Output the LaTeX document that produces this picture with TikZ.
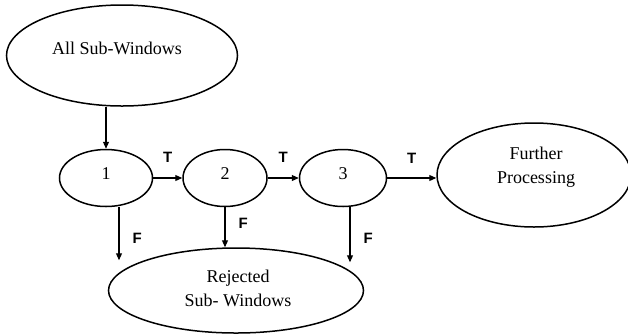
\documentclass[tikz,border=0pt]{standalone}
\usepackage{fontspec}
\setmainfont{Liberation Serif}
\newfontfamily\flagfont{Liberation Sans}
\usetikzlibrary{shapes.geometric,positioning,arrows.meta}

\begin{document}
\begin{tikzpicture}[x=1pt, y=1pt, >={Triangle[length=7pt,width=6pt]},
    stage/.style={ellipse, draw, line width=1.5pt, inner sep=0pt, minimum height=57pt},
    flag/.style={font=\flagfont\bfseries\fontsize{15}{18}\selectfont, inner sep=0pt},
    every label/.style={font=\fontsize{18}{24}\selectfont, align=center, inner sep=0pt}]
    \useasboundingbox (0,0) rectangle (628,-333);

    % Classifier stages
    \node[stage, minimum width=93pt, label={[yshift=4pt]center:1}] (n1) at (106,-178) {};
    \node[stage, minimum width=84pt, right=29pt of n1, label={[yshift=4pt]center:2}] (n2) {};
    \node[stage, minimum width=87pt, right=31pt of n2, label={[yshift=4pt]center:3}] (n3) {};

    % Input, accepted and rejected windows
    \node[stage, minimum width=231pt, minimum height=101pt, above=42pt of n1, xshift=16pt,
        label={[xshift=-5pt, yshift=7pt]center:All Sub-Windows}] (all) {};
    \node[stage, minimum width=194pt, minimum height=104pt, right=49pt of n3, yshift=3pt,
        label={[xshift=2pt, yshift=8pt]center:Further\\Processing}] (fp) {};
    \node[stage, minimum width=255pt, minimum height=85pt, below=40pt of n2, xshift=11pt,
        label={[xshift=2pt, yshift=2pt]center:Rejected\\Sub- Windows}] (rej) {};

    % Free ends of the rejection arrows
    \coordinate[below=53pt of n1.south, xshift=13pt] (drop1);
    \coordinate[below=55pt of n3.south, xshift=7pt] (drop3);

    % Connections
    \draw[->, line width=1.1pt] (n1.north |- all.south) -- (n1);
    \draw[->, line width=1.1pt] (n1) -- (n2) node[flag, midway, above=15pt] {T};
    \draw[->, line width=1.1pt] (n2) -- (n3) node[flag, midway, above=15pt] {T};
    \draw[->, line width=1.1pt] (n3) -- (n3 -| fp.west) node[flag, midway, above=14pt] {T};

    \draw[->, line width=1.1pt] (drop1 |- n1.south) -- (drop1) node[flag, pos=0.58, right=13pt] {F};
    \draw[->, line width=1.1pt] (n2) -- (n2 |- rej.north) node[flag, pos=0.4, right=13pt] {F};
    \draw[->, line width=1.1pt] (drop3 |- n3.south) -- (drop3) node[flag, pos=0.56, right=13pt] {F};
\end{tikzpicture}
\end{document}
